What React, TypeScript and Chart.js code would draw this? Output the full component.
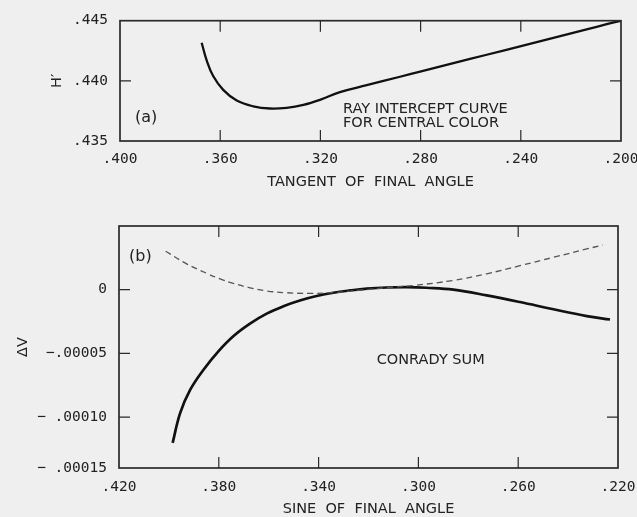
import React, { useEffect, useRef } from 'react';
import { Chart, registerables } from 'chart.js';

Chart.register(...registerables);

// ---------- (a) Ray intercept curve ----------
const tanAngle = [0.3674, 0.3654, 0.3628, 0.3588, 0.3534, 0.3468, 0.3401, 0.3335, 0.3268, 0.3202, 0.3122, 0.3015, 0.2882, 0.2802, 0.2669, 0.2536, 0.2403, 0.2270, 0.2137, 0.2057, 0.2000];
const hPrime = [0.44317, 0.44170, 0.44040, 0.43925, 0.43836, 0.43788, 0.43770, 0.43776, 0.43800, 0.43842, 0.43907, 0.43964, 0.44034, 0.44076, 0.44147, 0.44217, 0.44287, 0.44358, 0.44428, 0.44471, 0.44500];
const tanTicks = [0.2, 0.24, 0.28, 0.32, 0.36, 0.4];
const tanTickLabels = ['.200', '.240', '.280', '.320', '.360', '.400'];
const hTicks = [0.435, 0.44, 0.445];
const hTickLabels = ['.435', '.440', '.445'];

// ---------- (b) Conrady sum ----------
const sineSolid = [0.3985, 0.3955, 0.3915, 0.3862, 0.3800, 0.3742, 0.3675, 0.3608, 0.3541, 0.3475, 0.3408, 0.3341, 0.3274, 0.3207, 0.3127, 0.3047, 0.2967, 0.2860, 0.2726, 0.2593, 0.2459, 0.2325, 0.2232];
const conradySolid = [-0.0001203, -0.0000969, -0.0000787, -0.0000630, -0.0000480, -0.0000365, -0.0000266, -0.0000188, -0.0000130, -0.0000085, -0.0000050, -0.0000024, -0.0000006, 0.0000008, 0.0000017, 0.0000020, 0.0000015, 0.0000000, -0.0000045, -0.0000097, -0.0000154, -0.0000207, -0.0000234];
const sineDashed = [0.4013, 0.3929, 0.3848, 0.3795, 0.3742, 0.3675, 0.3608, 0.3528, 0.3434, 0.3341, 0.3234, 0.3127, 0.3020, 0.2860, 0.2726, 0.2593, 0.2459, 0.2325, 0.2261];
const conradyDashed = [0.0000302, 0.0000203, 0.0000128, 0.0000085, 0.0000050, 0.0000015, -0.0000010, -0.0000024, -0.0000029, -0.0000023, -0.0000004, 0.0000016, 0.0000033, 0.0000073, 0.0000125, 0.0000188, 0.0000254, 0.0000320, 0.0000350];
const sineTicks = [0.22, 0.26, 0.30, 0.34, 0.38, 0.42];
const sineTickLabels = ['.220', '.260', '.300', '.340', '.380', '.420'];
const dvTicks = [-0.00014, -0.0001, -0.00005, 0, 0.00005];
const dvTickLabels = ['\u2212 .00015', '\u2212 .00010', '\u2212.00005', '0', ''];

const INK = '#222';
const BG = '#efefef';
const TICK_FONT = { family: 'DejaVu Sans Mono', size: 14.5 };
const TEXT_FONT = '14.5px "DejaVu Sans"';
const TAG_FONT = '16px "DejaVu Sans"';

function labelFor(values: number[], labels: string[]) {
  return (value: number) => {
    const i = values.findIndex((v) => Math.abs(v - value) < 1e-9);
    return i >= 0 ? labels[i] : '';
  };
}

function setTicks(values: number[]) {
  return (scale: any) => {
    scale.ticks = values.map((v) => ({ value: v }));
  };
}

type Note = { x: number; y: number; lines: string[]; font: string };

function framePlugin(notes: Note[]) {
  return {
    id: 'frameAndNotes',
    afterDatasetsDraw(chart: any) {
      const { ctx, chartArea: a, scales } = chart;
      const xs = scales.x;
      const ys = scales.y;
      const TL = 11;
      ctx.save();
      ctx.strokeStyle = '#2a2a2a';
      ctx.lineWidth = 1.7;
      ctx.strokeRect(a.left, a.top, a.right - a.left, a.bottom - a.top);
      ctx.lineWidth = 1.2;
      ctx.beginPath();
      xs.ticks.forEach((t: any) => {
        if (t.value <= xs.min + 1e-9 || t.value >= xs.max - 1e-9) return;
        const px = xs.getPixelForValue(t.value);
        ctx.moveTo(px, a.top);
        ctx.lineTo(px, a.top + TL);
        ctx.moveTo(px, a.bottom);
        ctx.lineTo(px, a.bottom - TL);
      });
      ys.ticks.forEach((t: any) => {
        if (t.value <= ys.min + 1e-12 || t.value >= ys.max - 1e-12) return;
        const py = ys.getPixelForValue(t.value);
        ctx.moveTo(a.left, py);
        ctx.lineTo(a.left + TL, py);
        ctx.moveTo(a.right, py);
        ctx.lineTo(a.right - TL, py);
      });
      ctx.stroke();
      ctx.fillStyle = INK;
      ctx.textAlign = 'left';
      ctx.textBaseline = 'middle';
      notes.forEach((n) => {
        ctx.font = n.font;
        const px = xs.getPixelForValue(n.x);
        const py = ys.getPixelForValue(n.y);
        n.lines.forEach((line, i) => ctx.fillText(line, px, py + i * 14.2));
      });
      ctx.restore();
    },
  };
}

function ChartA() {
  const ref = useRef<HTMLCanvasElement>(null);
  useEffect(() => {
    const H = 195;
    const chart = new Chart(ref.current!, {
      type: 'line',
      data: {
        datasets: [
          {
            data: tanAngle.map((t, i) => ({ x: t, y: hPrime[i] })),
            borderColor: '#111',
            borderWidth: 2.3,
            pointRadius: 0,
            tension: 0.4,
            fill: false,
          },
        ],
      },
      options: {
        responsive: false,
        animation: false,
        events: [],
        layout: { padding: { left: 0, right: 16, top: 14, bottom: 0 } },
        plugins: { legend: { display: false }, tooltip: { enabled: false } },
        scales: {
          x: {
            type: 'linear',
            reverse: true,
            min: 0.2,
            max: 0.4,
            afterBuildTicks: setTicks(tanTicks),
            afterFit: (s: any) => { s.height = H - 141; },
            grid: { display: false, drawTicks: false },
            border: { display: false },
            ticks: { callback: labelFor(tanTicks, tanTickLabels), font: TICK_FONT, color: INK, padding: 10, maxRotation: 0, autoSkip: false },
            title: { display: true, text: 'TANGENT  OF  FINAL  ANGLE', color: INK, font: { family: 'DejaVu Sans', size: 14.5, lineHeight: 1 }, padding: { top: 0, bottom: 6 } },
          },
          y: {
            type: 'linear',
            min: 0.435,
            max: 0.445,
            afterBuildTicks: setTicks(hTicks),
            afterFit: (s: any) => { s.width = 120; },
            grid: { display: false, drawTicks: false },
            border: { display: false },
            ticks: { callback: labelFor(hTicks, hTickLabels), font: TICK_FONT, color: INK, padding: 12, autoSkip: false },
            title: { display: true, text: 'H\u2032', color: INK, font: { family: 'DejaVu Sans', size: 14.5, lineHeight: 1 }, padding: { top: 50, bottom: 0 } },
          },
        },
      },
      plugins: [
        framePlugin([
          { x: 0.394, y: 0.43689, lines: ['(a)'], font: TAG_FONT },
          { x: 0.311, y: 0.43768, lines: ['RAY INTERCEPT CURVE', 'FOR CENTRAL COLOR'], font: TEXT_FONT },
        ]),
      ],
    } as any);
    return () => chart.destroy();
  }, []);
  return <canvas ref={ref} width={637} height={195} style={{ position: 'absolute', left: 0, top: 0, width: 637, height: 195 }} />;
}

function ChartB() {
  const ref = useRef<HTMLCanvasElement>(null);
  useEffect(() => {
    const H = 322;
    const chart = new Chart(ref.current!, {
      type: 'line',
      data: {
        datasets: [
          {
            data: sineDashed.map((s, i) => ({ x: s, y: conradyDashed[i] })),
            borderColor: '#555',
            borderWidth: 1.3,
            borderDash: [6, 4],
            pointRadius: 0,
            tension: 0.4,
            fill: false,
          },
          {
            data: sineSolid.map((s, i) => ({ x: s, y: conradySolid[i] })),
            borderColor: '#111',
            borderWidth: 2.7,
            pointRadius: 0,
            tension: 0.4,
            fill: false,
          },
        ],
      },
      options: {
        responsive: false,
        animation: false,
        events: [],
        layout: { padding: { left: 0, right: 19, top: 31, bottom: 0 } },
        plugins: { legend: { display: false }, tooltip: { enabled: false } },
        scales: {
          x: {
            type: 'linear',
            reverse: true,
            min: 0.22,
            max: 0.42,
            afterBuildTicks: setTicks(sineTicks),
            afterFit: (s: any) => { s.height = H - 273; },
            grid: { display: false, drawTicks: false },
            border: { display: false },
            ticks: { callback: labelFor(sineTicks, sineTickLabels), font: TICK_FONT, color: INK, padding: 11, maxRotation: 0, autoSkip: false },
            title: { display: true, text: 'SINE  OF  FINAL  ANGLE', color: INK, font: { family: 'DejaVu Sans', size: 14.5, lineHeight: 1 }, padding: { top: 0, bottom: 1 } },
          },
          y: {
            type: 'linear',
            min: -0.00014,
            max: 0.00005,
            afterBuildTicks: setTicks(dvTicks),
            afterFit: (s: any) => { s.width = 119; },
            grid: { display: false, drawTicks: false },
            border: { display: false },
            ticks: { callback: labelFor(dvTicks, dvTickLabels), font: TICK_FONT, color: INK, padding: 12, autoSkip: false },
            title: { display: true, text: '\u0394V', color: INK, font: { family: 'DejaVu Sans', size: 14.5, lineHeight: 1 }, padding: { top: 16, bottom: 0 } },
          },
        },
      },
      plugins: [
        framePlugin([
          { x: 0.416, y: 0.0000255, lines: ['(b)'], font: TAG_FONT },
          { x: 0.3167, y: -0.0000552, lines: ['CONRADY SUM'], font: TEXT_FONT },
        ]),
      ],
    } as any);
    return () => chart.destroy();
  }, []);
  return <canvas ref={ref} width={637} height={322} style={{ position: 'absolute', left: 0, top: 195, width: 637, height: 322 }} />;
}

export default function App() {
  return (
    <div style={{ position: 'fixed', left: 0, top: 0, width: 637, height: 517, background: BG, overflow: 'hidden' }}>
      <ChartA />
      <ChartB />
    </div>
  );
}
